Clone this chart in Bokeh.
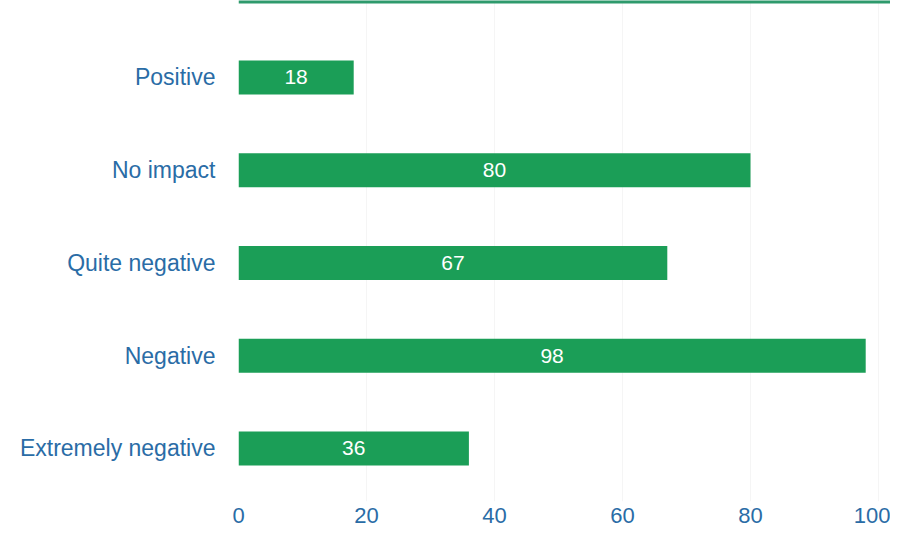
from bokeh.plotting import figure
from bokeh.models import ColumnDataSource, Range1d, Span, LabelSet, FixedTicker
from bokeh.core.properties import value
from bokeh.embed import file_html
from bokeh.resources import INLINE

categories = ["Extremely negative", "Negative", "Quite negative", "No impact", "Positive"]
values = [36, 98, 67, 80, 18]
x_ticks = [0, 20, 40, 60, 80, 100]

BAR = "#1b9e57"
TXT = "#2a6ca6"
FONT = "Liberation Sans"

ypos = list(range(len(categories)))
src = ColumnDataSource(dict(y=ypos, val=values,
                            mid=[v / 2 for v in values],
                            lab=[str(v) for v in values]))

p = figure(width=890, height=529, output_backend="svg", toolbar_location=None,
           y_range=Range1d(-0.572, len(categories) - 1 + 0.83),
           x_range=Range1d(0, 101.875),
           min_border_left=238, min_border_right=0, min_border_top=0, min_border_bottom=28)

p.hbar(y="y", right="val", left=0, height=0.367, source=src, color=BAR, line_color=None)

labels = LabelSet(x="mid", y="y", text="lab", source=src, text_align="center",
                  text_baseline="middle", text_color="white", text_font=value(FONT),
                  text_font_size="21px")
p.add_layout(labels)

p.add_layout(Span(location=len(categories) - 1 + 0.83, dimension="width",
                  line_color="#2e9a6c", line_width=6))

p.outline_line_color = None
p.ygrid.grid_line_color = None
p.xgrid.grid_line_color = "#f5f5f5"
p.xaxis.ticker = FixedTicker(ticks=x_ticks)
p.yaxis.ticker = FixedTicker(ticks=ypos)
p.yaxis.major_label_overrides = {i: c for i, c in zip(ypos, categories)}

for ax in (p.xaxis, p.yaxis):
    ax.axis_line_color = None
    ax.major_tick_line_color = None
    ax.minor_tick_line_color = None
    ax.major_label_text_color = TXT
    ax.major_label_text_font = FONT

p.yaxis.major_label_text_font_size = "23px"
p.xaxis.major_label_text_font_size = "22px"
p.yaxis.major_label_standoff = 17
p.xaxis.major_label_standoff = 0

open("out.html", "w").write(file_html(p, INLINE))
